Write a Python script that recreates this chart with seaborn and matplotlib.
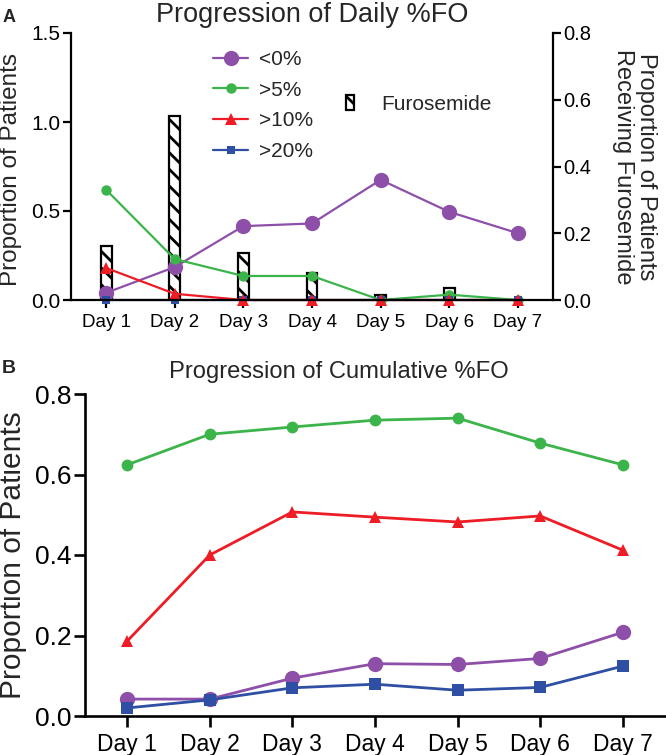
import numpy as np
import pandas as pd
import matplotlib
matplotlib.use("Agg")
import matplotlib.pyplot as plt
import seaborn as sns
from matplotlib.patches import Patch

# ---------------- data ----------------
days = ["Day 1", "Day 2", "Day 3", "Day 4", "Day 5", "Day 6", "Day 7"]
series_names = ["<0%", ">5%", ">10%", ">20%"]

daily_lt0 = [0.04, 0.185, 0.415, 0.43, 0.675, 0.495, 0.375]
daily_gt5 = [0.62, 0.23, 0.135, 0.135, 0.0, 0.03, 0.0]
daily_gt10 = [0.18, 0.035, 0.0, 0.0, 0.0, 0.0, 0.0]
daily_gt20 = [0.0, 0.0, 0.0, 0.0, 0.0, 0.0, 0.0]
furosemide = [0.162, 0.551, 0.141, 0.081, 0.015, 0.036, 0.0]

cum_lt0 = [0.042, 0.042, 0.094, 0.130, 0.128, 0.143, 0.208]
cum_gt5 = [0.624, 0.700, 0.718, 0.735, 0.740, 0.678, 0.624]
cum_gt10 = [0.186, 0.400, 0.507, 0.494, 0.482, 0.497, 0.412]
cum_gt20 = [0.020, 0.040, 0.070, 0.079, 0.064, 0.071, 0.124]

top_yticks = [0.0, 0.5, 1.0, 1.5]
right_yticks = [0.0, 0.2, 0.4, 0.6, 0.8]
bottom_yticks = [0.0, 0.2, 0.4, 0.6, 0.8]

# ---------------- style ----------------
sns.set_theme(style="ticks")
plt.rcParams["font.family"] = ["Liberation Sans", "DejaVu Sans"]
plt.rcParams["hatch.linewidth"] = 2.0
plt.rcParams["hatch.color"] = "black"

colors = ["#8E4FA8", "#3BB44A", "#EE1C25", "#2E4FA3"]
markers = ["o", "o", "^", "s"]
zorders = [2.1, 2.2, 2.4, 2.3]

W, H = 666, 755
fig = plt.figure(figsize=(W / 100, H / 100), dpi=100)

def rect(l, t, r, b):
    return [l / W, 1 - b / H, (r - l) / W, (b - t) / H]

xpos = np.arange(len(days))

# ---------------- panel A ----------------
ax1 = fig.add_axes(rect(71, 33, 553, 300))
ax2 = ax1.twinx()

bar_df = pd.DataFrame({"day": days, "furo": furosemide})
sns.barplot(data=bar_df, x="day", y="furo", ax=ax2, width=0.16, color="white",
            saturation=1, edgecolor="black", linewidth=1.6, hatch="\\\\")

top_ms = [11, 7.5, 8.5, 6.0]
daily = [daily_lt0, daily_gt5, daily_gt10, daily_gt20]
for name, vals, c, m, ms, z in zip(series_names, daily, colors, markers, top_ms, zorders):
    sns.lineplot(x=xpos, y=vals, ax=ax1, color=c, marker=m, markersize=ms,
                 markeredgecolor=c, markeredgewidth=0, linewidth=1.6, label=name,
                 zorder=z, clip_on=False)

ax1.set_zorder(ax2.get_zorder() + 1)
ax1.patch.set_visible(False)

ax1.set_xlim(-0.51, 6.51)
ax2.set_xlim(-0.51, 6.51)
ax1.set_ylim(0, 1.5)
ax2.set_ylim(0, 0.8)
ax1.set_xticks(xpos)
ax1.set_xticklabels(days)
ax1.set_yticks(top_yticks)
ax1.set_yticklabels([f"{v:.1f}" for v in top_yticks])
ax2.set_yticks(right_yticks)
ax2.set_yticklabels([f"{v:.1f}" for v in right_yticks])
ax2.set_xlabel("")

for a in (ax1, ax2):
    a.spines["top"].set_visible(False)
    for s in a.spines.values():
        s.set_linewidth(1.6)
        s.set_color("black")
ax1.spines["right"].set_visible(False)
ax2.spines["left"].set_visible(False)
ax2.spines["bottom"].set_visible(False)

ax1.tick_params(axis="y", length=6, width=1.6, labelsize=15, pad=1.5, colors="black")
ax1.tick_params(axis="x", length=6, width=1.6, labelsize=13.5, pad=4, colors="black")
ax2.tick_params(axis="y", length=6, width=1.6, labelsize=14.5, pad=1.5, colors="black")
ax2.tick_params(axis="x", bottom=False, labelbottom=False)

ax1.set_xlabel("")
ax1.set_ylabel("Proportion of Patients", fontsize=17.5)
ax1.yaxis.set_label_coords((22 - 71) / 482, 0.49)
ax2.set_ylabel("Proportion of Patients\nReceiving Furosemide", fontsize=17,
               rotation=270, va="bottom", ha="center", linespacing=1.05)
ax2.yaxis.set_label_coords((612 - 71) / 482, 0.5)

ax1.set_title("Progression of Daily %FO", fontsize=19.5, pad=8)

h, l = ax1.get_legend_handles_labels()
leg1 = ax1.legend(h, l, loc="upper left", bbox_to_anchor=(213 / W, 1 - 50 / H),
                  bbox_transform=fig.transFigure, frameon=False, fontsize=15,
                  handlelength=1.7, handletextpad=0.5, labelspacing=0.56,
                  borderpad=0, borderaxespad=0)
ax1.add_artist(leg1)
furo_handle = Patch(facecolor="white", edgecolor="black", hatch="\\\\", linewidth=1.6)
ax1.legend([furo_handle], ["Furosemide"], loc="upper left",
           bbox_to_anchor=(346 / W, 1 - 95 / H), bbox_transform=fig.transFigure,
           frameon=False, fontsize=15, handlelength=0.4, handleheight=0.75,
           handletextpad=1.3, borderpad=0, borderaxespad=0)

# ---------------- panel B ----------------
ax3 = fig.add_axes(rect(85, 394, 665, 716))
bot_ms = [11, 8.5, 8.5, 8]
cum = [cum_lt0, cum_gt5, cum_gt10, cum_gt20]
for name, vals, c, m, ms, z in zip(series_names, cum, colors, markers, bot_ms, zorders):
    sns.lineplot(x=xpos, y=vals, ax=ax3, color=c, marker=m, markersize=ms,
                 markeredgecolor=c, markeredgewidth=0, linewidth=2.0, legend=False,
                 zorder=z, clip_on=False)

ax3.set_xlim(-0.51, 6.51)
ax3.set_ylim(0, 0.8)
ax3.set_xticks(xpos)
ax3.set_xticklabels(days)
ax3.set_yticks(bottom_yticks)
ax3.set_yticklabels([f"{v:.1f}" for v in bottom_yticks])
ax3.spines["top"].set_visible(False)
ax3.spines["right"].set_visible(False)
for s in ax3.spines.values():
    s.set_linewidth(1.9)
    s.set_color("black")
ax3.tick_params(axis="y", length=8, width=1.9, labelsize=19, pad=1.5, colors="black")
ax3.tick_params(axis="x", length=8, width=1.9, labelsize=16.5, pad=4, colors="black")
ax3.set_xlabel("")
ax3.set_ylabel("Proportion of Patients", fontsize=21.5)
ax3.yaxis.set_label_coords((27 - 85) / 580, 0.5)
ax3.set_title("Progression of Cumulative %FO", fontsize=17.1, pad=11.5,
              x=(339 - 85) / 580)

# panel letters
fig.text(3 / W, 1 - 22 / H, "A", fontsize=13, fontweight="bold", ha="left", va="baseline")
fig.text(2 / W, 1 - 373 / H, "B", fontsize=14, fontweight="bold", ha="left", va="baseline")

fig.savefig("out.png", dpi=100)
